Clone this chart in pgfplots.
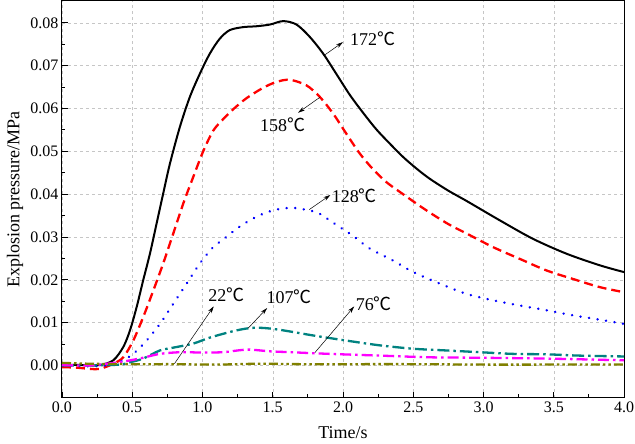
\documentclass[border=0pt]{standalone}
\usepackage{pgfplots}
\pgfplotsset{compat=1.18}
\usepackage{fontspec}
\setmainfont{Liberation Serif}
\newfontfamily\cjk{Noto Sans CJK SC}
\usetikzlibrary{arrows.meta}
\definecolor{tealc}{RGB}{0,130,128}
\definecolor{olivec}{RGB}{128,128,0}
\definecolor{magc}{RGB}{255,0,255}
\newcommand{\dc}{{\cjk ℃}}
\begin{document}
\begin{tikzpicture}
\path[use as bounding box] (-62pt,-46pt) rectangle (573pt,398pt);
\begin{axis}[
  at={(0,0)}, anchor=south west,
  width=562pt, height=397pt, scale only axis,
  xmin=0, xmax=4, ymin=-0.0076, ymax=0.0851,
  xtick={0,0.5,...,4}, minor x tick num=1,
  ytick={0,0.01,...,0.08}, minor y tick num=1,
  tick pos=left, tick align=inside,
  major tick length=6pt, minor tick length=3.5pt,
  every tick/.style={black, line width=0.8pt},
  axis line style={line width=1pt},
  grid=major, major grid style={dashed, gray!45, line width=0.5pt},
  /pgf/number format/assume math mode=true,
  xticklabel style={/pgf/number format/.cd, fixed, fixed zerofill, precision=1},
  yticklabel style={/pgf/number format/.cd, fixed, fixed zerofill, precision=2},
  scaled y ticks=false,
  ticklabel style={font=\fontsize{16}{19}\selectfont},
  xlabel={Time/s}, ylabel={Explosion pressure/MPa},
  label style={font=\fontsize{18}{21}\selectfont},
  xlabel style={at={(axis description cs:0.5,-0.088)}, anchor=center},
  ylabel style={at={(axis description cs:-0.0836,0.5)}, anchor=center},
  clip=true,
]
% 172 C
\addplot[black, line width=2pt, smooth] coordinates {
(0,0.0002)(0.15,0.0001)(0.27,0.0001)(0.365,0.0012)(0.436,0.0043)(0.484,0.0082)(0.531,0.0136)(0.578,0.0199)(0.626,0.0261)(0.673,0.0331)(0.72,0.0401)(0.768,0.0471)(0.839,0.0557)(0.91,0.0627)(0.981,0.0681)(1.052,0.0728)(1.123,0.0763)(1.194,0.0783)(1.29,0.079)(1.384,0.0792)(1.48,0.0796)(1.574,0.0804)(1.669,0.0796)(1.764,0.0767)(1.859,0.0728)(1.954,0.0680)(2.048,0.0632)(2.143,0.0590)(2.238,0.0551)(2.333,0.0518)(2.427,0.0487)(2.522,0.046)(2.617,0.0436)(2.75,0.0408)(2.88,0.0384)(3.115,0.0339)(3.35,0.0296)(3.59,0.0261)(3.826,0.0234)(4.0,0.0218)};
% 158 C
\addplot[red, line width=2.3pt, dash pattern=on 9pt off 5pt, smooth] coordinates {
(0,-0.0004)(0.1,-0.0005)(0.2,-0.0008)(0.27,-0.0008)(0.365,0.0004)(0.436,0.0019)(0.507,0.0058)(0.578,0.0113)(0.65,0.0175)(0.72,0.0238)(0.792,0.0308)(0.863,0.0378)(0.934,0.044)(1.005,0.0500)(1.076,0.0548)(1.147,0.0575)(1.218,0.0598)(1.313,0.0624)(1.43,0.0648)(1.526,0.0662)(1.622,0.0667)(1.74,0.0654)(1.835,0.0627)(1.93,0.0588)(2.024,0.0541)(2.119,0.0495)(2.214,0.0458)(2.309,0.0428)(2.427,0.0400)(2.594,0.0362)(2.75,0.0330)(2.88,0.0308)(3.07,0.0276)(3.257,0.0249)(3.447,0.0222)(3.636,0.0202)(3.826,0.0183)(4.0,0.0171)};
% 128 C
\addplot[blue, line width=2.6pt, line cap=round, dash pattern=on 0.1pt off 8.5pt, smooth] coordinates {
(0,0.0)(0.2,-0.0002)(0.34,0.0001)(0.412,0.0008)(0.507,0.0027)(0.602,0.0058)(0.697,0.0097)(0.792,0.0144)(0.887,0.0191)(0.981,0.0238)(1.076,0.0276)(1.17,0.03)(1.242,0.0319)(1.337,0.0339)(1.43,0.0354)(1.526,0.0364)(1.645,0.0368)(1.788,0.0360)(1.835,0.0354)(1.977,0.0323)(2.07,0.0303)(2.19,0.0273)(2.356,0.0245)(2.5,0.0218)(2.69,0.0191)(2.88,0.0167)(3.07,0.0152)(3.257,0.014)(3.447,0.0129)(3.636,0.0117)(3.826,0.0107)(4.0,0.0097)};
% 107 C
\addplot[tealc, line width=2.3pt, dash pattern=on 12pt off 4pt on 2.5pt off 4pt, smooth] coordinates {
(0,0.0)(0.2,0.0)(0.41,0.0002)(0.49,0.0008)(0.578,0.0016)(0.697,0.0035)(0.815,0.0043)(0.934,0.0051)(1.052,0.0065)(1.194,0.0078)(1.29,0.0085)(1.37,0.0088)(1.455,0.0087)(1.574,0.0082)(1.788,0.007)(2.025,0.0058)(2.26,0.0047)(2.5,0.0039)(2.736,0.0035)(2.97,0.0031)(3.21,0.0027)(3.447,0.0026)(3.68,0.0023)(4.0,0.0021)};
% 76 C
\addplot[magc, line width=2.3pt, dash pattern=on 11pt off 4pt on 2.5pt off 4pt, smooth] coordinates {
(0,0.0001)(0.2,0.0)(0.412,0.0008)(0.55,0.0016)(0.697,0.0027)(0.85,0.0031)(1.0,0.0030)(1.15,0.0031)(1.25,0.0035)(1.337,0.0037)(1.479,0.0033)(1.62,0.0031)(1.905,0.0027)(2.26,0.0023)(2.62,0.0019)(2.97,0.0018)(3.447,0.0016)(4.0,0.0012)};
% 22 C
\addplot[olivec, line width=2.3pt, dash pattern=on 9pt off 3pt on 2.5pt off 3pt on 2.5pt off 3pt, smooth] coordinates {
(0,0.0006)(0.2,0.0004)(0.5,0.0003)(0.8,0.0003)(1.1,0.0002)(1.4,0.0004)(1.7,0.0003)(2.0,0.0003)(2.5,0.0003)(3.0,0.0002)(3.5,0.0002)(4.0,0.0002)};
% annotations
\tikzset{ann/.style={black, line width=0.5pt, -{Stealth[length=7pt,width=4pt]}}}
\draw[ann] (axis cs:1.87,0.0725) -- (axis cs:2.0,0.0755);
\node[font=\fontsize{18}{21}\selectfont, anchor=west, inner sep=0pt] at (axis cs:2.05,0.0762) {172\dc};
\draw[ann] (axis cs:1.835,0.0626) -- (axis cs:1.68,0.0590);
\node[font=\fontsize{18}{21}\selectfont, anchor=center, inner sep=0pt] at (axis cs:1.57,0.0561) {158\dc};
\draw[ann] (axis cs:1.76,0.0364) -- (axis cs:1.91,0.0398);
\node[font=\fontsize{18}{21}\selectfont, anchor=west, inner sep=0pt] at (axis cs:1.92,0.0397) {128\dc};
\draw[ann] (axis cs:1.80,0.0030) -- (axis cs:2.08,0.0138);
\node[font=\fontsize{18}{21}\selectfont, anchor=west, inner sep=0pt] at (axis cs:2.09,0.0145) {76\dc};
\draw[ann] (axis cs:1.325,0.0087) -- (axis cs:1.46,0.0134);
\node[font=\fontsize{18}{21}\selectfont, anchor=west, inner sep=0pt] at (axis cs:1.455,0.0161) {107\dc};
\draw[ann] (axis cs:0.80,0.0004) -- (axis cs:1.08,0.0138);
\node[font=\fontsize{18}{21}\selectfont, anchor=west, inner sep=0pt] at (axis cs:1.04,0.0164) {22\dc};
\end{axis}
\end{tikzpicture}
\end{document}
